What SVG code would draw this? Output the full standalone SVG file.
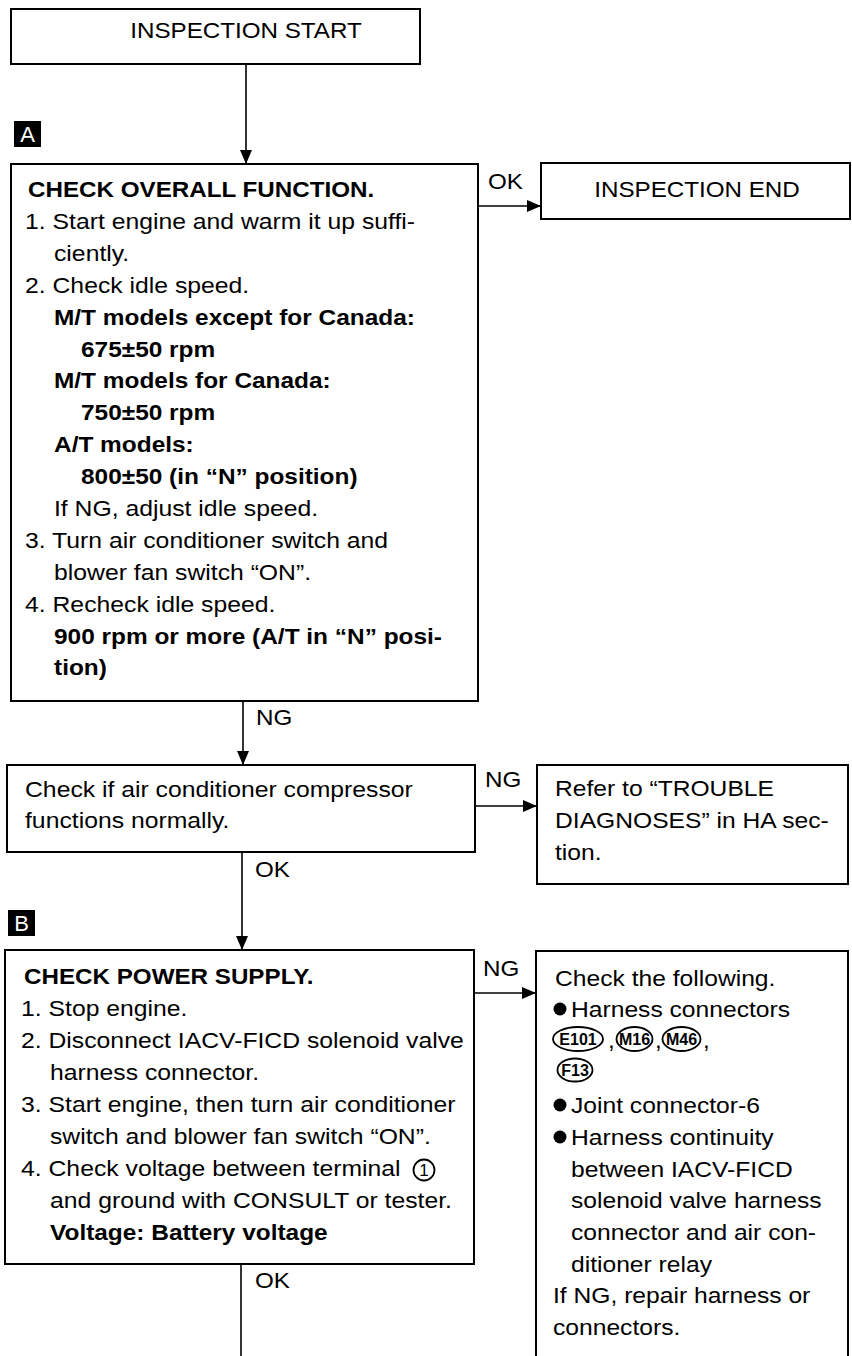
<svg xmlns="http://www.w3.org/2000/svg" width="852" height="1356" viewBox="0 0 852 1356">
<style>
.bx{fill:#fff;stroke:#000;stroke-width:2}
.ln{fill:none;stroke:#000;stroke-width:1.6}
text{font-family:"Liberation Sans",Arial,Helvetica,sans-serif;font-size:22px;fill:#000}
.b{font-weight:bold}
.m{text-anchor:middle}
.mk{fill:#000}
.mkt{fill:#fff;font-size:22px;text-anchor:middle}
.ov{fill:none;stroke:#000;stroke-width:1.8}
.ovt{font-size:16px;font-weight:bold;text-anchor:middle}
</style>
<defs>
<marker id="ah" markerUnits="userSpaceOnUse" markerWidth="14" markerHeight="12" refX="14" refY="6" orient="auto">
<path d="M0,0 L14,6 L0,12 z" fill="#000"/>
</marker>
</defs>

<g id="connectors">
<line class="ln" x1="246" y1="64" x2="246" y2="164" marker-end="url(#ah)"/>
<line class="ln" x1="478" y1="206" x2="541" y2="206" marker-end="url(#ah)"/>
<text transform="translate(488 189) scale(1.1 1)">OK</text>
<line class="ln" x1="243" y1="701" x2="243" y2="765" marker-end="url(#ah)"/>
<text transform="translate(256 725) scale(1.1 1)">NG</text>
<line class="ln" x1="475" y1="806" x2="537" y2="806" marker-end="url(#ah)"/>
<text transform="translate(485 787) scale(1.1 1)">NG</text>
<line class="ln" x1="242" y1="852" x2="242" y2="950" marker-end="url(#ah)"/>
<text transform="translate(255 877) scale(1.1 1)">OK</text>
<line class="ln" x1="474" y1="993" x2="536" y2="993" marker-end="url(#ah)"/>
<text transform="translate(483 976) scale(1.1 1)">NG</text>
<line class="ln" x1="241" y1="1264" x2="241" y2="1356"/>
<text transform="translate(255 1288) scale(1.1 1)">OK</text>
</g>

<g id="start">
<rect class="bx" x="11" y="9" width="409" height="55"/>
<text class="m" transform="translate(246 38) scale(1.1 1)">INSPECTION START</text>
</g>

<g id="markerA">
<rect class="mk" x="14" y="121" width="27" height="26"/>
<text class="mkt" x="27.5" y="142">A</text>
</g>

<g id="checkOverall">
<rect class="bx" x="11" y="164" width="467" height="537"/>
<text class="b" transform="translate(28 197) scale(1.1 1)">CHECK OVERALL FUNCTION.</text>
<text transform="translate(25 229) scale(1.125 1)">1. Start engine and warm it up suffi-</text>
<text transform="translate(54 261) scale(1.125 1)">ciently.</text>
<text transform="translate(25 293) scale(1.125 1)">2. Check idle speed.</text>
<text class="b" transform="translate(54 325) scale(1.11 1)">M/T models except for Canada:</text>
<text class="b" transform="translate(81 357) scale(1.11 1)">675±50 rpm</text>
<text class="b" transform="translate(54 388) scale(1.11 1)">M/T models for Canada:</text>
<text class="b" transform="translate(81 420) scale(1.11 1)">750±50 rpm</text>
<text class="b" transform="translate(54 452) scale(1.11 1)">A/T models:</text>
<text class="b" transform="translate(81 484) scale(1.11 1)">800±50 (in “N” position)</text>
<text transform="translate(54 516) scale(1.125 1)">If NG, adjust idle speed.</text>
<text transform="translate(25 548) scale(1.125 1)">3. Turn air conditioner switch and</text>
<text transform="translate(54 580) scale(1.125 1)">blower fan switch “ON”.</text>
<text transform="translate(25 612) scale(1.125 1)">4. Recheck idle speed.</text>
<text class="b" transform="translate(54 644) scale(1.11 1)">900 rpm or more (A/T in “N” posi-</text>
<text class="b" transform="translate(54 675) scale(1.11 1)">tion)</text>
</g>

<g id="inspectionEnd">
<rect class="bx" x="541" y="163" width="309" height="56"/>
<text class="m" transform="translate(697 197) scale(1.1 1)">INSPECTION END</text>
</g>

<g id="checkCompressor">
<rect class="bx" x="7" y="765" width="468" height="87"/>
<text transform="translate(25 797) scale(1.125 1)">Check if air conditioner compressor</text>
<text transform="translate(25 828) scale(1.125 1)">functions normally.</text>
</g>

<g id="troubleDiag">
<rect class="bx" x="537" y="765" width="311" height="119"/>
<text transform="translate(555 796) scale(1.12 1)">Refer to “TROUBLE</text>
<text transform="translate(555 828) scale(1.12 1)">DIAGNOSES” in HA sec-</text>
<text transform="translate(555 860) scale(1.12 1)">tion.</text>
</g>

<g id="markerB">
<rect class="mk" x="8" y="910" width="27" height="26"/>
<text class="mkt" x="21.5" y="931">B</text>
</g>

<g id="checkPower">
<rect class="bx" x="5" y="950" width="469" height="314"/>
<text class="b" transform="translate(24 984) scale(1.1 1)">CHECK POWER SUPPLY.</text>
<text transform="translate(21 1016) scale(1.125 1)">1. Stop engine.</text>
<text transform="translate(21 1048) scale(1.125 1)">2. Disconnect IACV-FICD solenoid valve</text>
<text transform="translate(50 1080) scale(1.125 1)">harness connector.</text>
<text transform="translate(21 1112) scale(1.125 1)">3. Start engine, then turn air conditioner</text>
<text transform="translate(50 1144) scale(1.125 1)">switch and blower fan switch “ON”.</text>
<text transform="translate(21 1176) scale(1.125 1)">4. Check voltage between terminal</text>
<circle class="ov" cx="424" cy="1170" r="10.5"/>
<text class="m" x="424" y="1176" style="font-size:17px">1</text>
<text transform="translate(50 1208) scale(1.125 1)">and ground with CONSULT or tester.</text>
<text class="b" transform="translate(50 1240) scale(1.11 1)">Voltage: Battery voltage</text>
</g>

<g id="checkFollowing">
<rect class="bx" x="536" y="951" width="312" height="440"/>
<text transform="translate(555 986) scale(1.12 1)">Check the following.</text>
<circle cx="560" cy="1009" r="6.5"/>
<text transform="translate(571 1017) scale(1.12 1)">Harness connectors</text>
<ellipse class="ov" cx="578" cy="1039" rx="25" ry="12"/>
<text class="ovt" x="578" y="1045">E101</text>
<text transform="translate(608 1048) scale(1.1 1)">,</text>
<ellipse class="ov" cx="634.5" cy="1039" rx="18" ry="12"/>
<text class="ovt" x="634.5" y="1045">M16</text>
<text transform="translate(655 1048) scale(1.1 1)">,</text>
<ellipse class="ov" cx="681.5" cy="1039" rx="19" ry="12"/>
<text class="ovt" x="681.5" y="1045">M46</text>
<text transform="translate(703 1048) scale(1.1 1)">,</text>
<ellipse class="ov" cx="575" cy="1070" rx="17.5" ry="11.5"/>
<text class="ovt" x="575" y="1076">F13</text>
<circle cx="560" cy="1105" r="6.5"/>
<text transform="translate(571 1113) scale(1.12 1)">Joint connector-6</text>
<circle cx="560" cy="1137" r="6.5"/>
<text transform="translate(571 1145) scale(1.12 1)">Harness continuity</text>
<text transform="translate(571 1177) scale(1.12 1)">between IACV-FICD</text>
<text transform="translate(571 1208) scale(1.12 1)">solenoid valve harness</text>
<text transform="translate(571 1240) scale(1.12 1)">connector and air con-</text>
<text transform="translate(571 1272) scale(1.12 1)">ditioner relay</text>
<text transform="translate(553 1303) scale(1.12 1)">If NG, repair harness or</text>
<text transform="translate(553 1335) scale(1.12 1)">connectors.</text>
</g>
</svg>
